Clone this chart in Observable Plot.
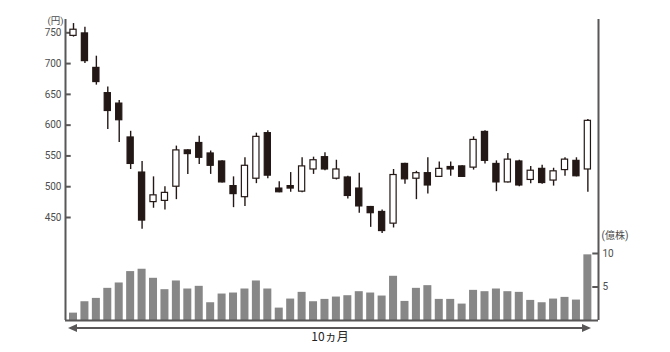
<!DOCTYPE html>
<html>
<head>
<meta charset="utf-8">
<script src="https://cdn.jsdelivr.net/npm/d3@7"></script>
<script src="https://cdn.jsdelivr.net/npm/@observablehq/plot@0.6"></script>
<style>
  html, body { margin: 0; padding: 0; background: #fff; }
  #wrap { position: relative; width: 670px; height: 352px; }
  #wrap svg { position: absolute; left: 0; top: 0; }
</style>
</head>
<body>
<div id="wrap"></div>
<script>
// ---- data ----
const openP  = [745,749,693,652,635,580,523,475,477,500,559,571,554,541,501,483,513,587,497,501,492,528,548,513,515,497,467,459,440,537,513,522,516,532,533,531,589,537,507,541,511,529,510,527,542,528];
const closeP = [755,704,670,623,608,537,445,486,490,559,553,547,534,507,488,534,581,518,491,497,533,543,528,528,485,468,457,428,519,512,522,502,529,528,516,576,542,507,544,502,526,506,525,544,517,607];
const highP  = [765,759,712,662,640,590,541,516,500,566,560,582,558,542,516,547,587,591,508,523,547,548,555,543,517,522,468,462,528,538,525,547,540,540,534,581,591,542,554,543,533,535,530,547,547,609];
const lowP   = [743,700,665,593,572,528,431,465,462,479,520,536,520,506,466,468,505,513,490,491,490,520,526,511,480,457,434,424,433,504,479,488,515,517,515,527,537,492,506,500,505,504,501,517,516,491];
const volume = [1.1,2.8,3.3,4.8,5.6,7.3,7.65,6.3,4.6,5.9,4.7,5.1,2.65,3.95,4.1,4.7,5.9,4.7,1.85,3.2,4.2,2.8,3.15,3.5,3.7,4.3,4.1,3.65,6.6,2.85,4.8,5.2,3.15,3.15,2.45,4.5,4.3,4.7,4.3,4.2,3.0,2.65,3.2,3.45,3.05,9.8];
const priceTicks = [450, 500, 550, 600, 650, 700, 750];
const volTicks = [5, 10];
const priceUnit = "(円)";
const volUnit = "(億株)";
const periodLabel = "10ヵ月";

const candles = openP.map((o, i) => ({i, open: o, close: closeP[i], high: highP[i], low: lowP[i]}));
const vols = volume.map((v, i) => ({i, v}));

const ink = "#231815";
const axisCol = "#595757";
const xDomain = [-0.7, 45.93];
const common = {
  width: 670, height: 352,
  marginLeft: 65, marginRight: 72, marginTop: 19, marginBottom: 32,
  style: {background: "transparent", fontFamily: "Roboto, 'Noto Sans CJK JP', sans-serif", fontSize: "10px", color: "#4d4d4d", overflow: "visible"}
};

function arrowMark(index, scales, values, dims) {
  const y = dims.height - dims.marginBottom + 8;
  const x0 = dims.marginLeft + 3, x1 = dims.width - dims.marginRight - 7;
  const g = d3.create("svg:g");
  g.append("line").attr("x1", x0 + 6).attr("x2", x1 - 6).attr("y1", y).attr("y2", y)
    .attr("stroke", axisCol).attr("stroke-width", 2);
  g.append("path").attr("d", `M${x0},${y}L${x0 + 9},${y - 4}L${x0 + 9},${y + 4}Z`).attr("fill", axisCol);
  g.append("path").attr("d", `M${x1},${y}L${x1 - 9},${y - 4}L${x1 - 9},${y + 4}Z`).attr("fill", axisCol);
  return g.node();
}

// volume layer + frame
const volPlot = Plot.plot({
  ...common,
  x: {domain: xDomain, axis: null},
  y: {domain: [0, 10], range: [320, 253], axis: "right", ticks: volTicks, tickSize: 0, tickPadding: 4, label: null},
  marks: [
    Plot.rectY(vols, {x1: d => d.i - 0.35, x2: d => d.i + 0.35, y: "v", fill: "#878787"}),
    Plot.ruleX(xDomain, {stroke: axisCol, strokeWidth: 2}),
    Plot.ruleY([0], {stroke: axisCol, strokeWidth: 2}),
    Plot.ruleY(volTicks, {y: d => d, x1: xDomain[1] - 0.5, x2: xDomain[1], stroke: axisCol, strokeWidth: 2}),
    Plot.text([volUnit], {text: d => d, frameAnchor: "bottom-right", dx: 3, dy: -82, textAnchor: "start", fill: "#4d4d4d", fontSize: 10}),
    arrowMark,
    Plot.text([periodLabel], {text: d => d, frameAnchor: "bottom", dx: -2, dy: 20, fill: "#222", fontSize: 12, fontFamily: "'Noto Sans CJK JP', sans-serif"})
  ]
});

// price layer
const pricePlot = Plot.plot({
  ...common,
  x: {domain: xDomain, axis: null},
  y: {domain: [450, 750], range: [217, 32.3], axis: "left", ticks: priceTicks, tickSize: 0, tickPadding: 4, label: null},
  marks: [
    Plot.ruleY(priceTicks, {y: d => d, x1: xDomain[0], x2: xDomain[0] + 0.5, stroke: axisCol, strokeWidth: 2}),
    Plot.text([priceUnit], {text: d => d, frameAnchor: "top-left", dx: -2, dy: -2, textAnchor: "end", fill: "#4d4d4d", fontSize: 9.5}),
    Plot.ruleX(candles, {x: "i", y1: "low", y2: "high", stroke: ink, strokeWidth: 1.4}),
    Plot.rect(candles, {x1: d => d.i - 0.27, x2: d => d.i + 0.27, y1: "open", y2: "close",
      fill: d => d.close > d.open ? "#ffffff" : ink, stroke: ink, strokeWidth: 1.2})
  ]
});

const wrap = document.getElementById("wrap");
wrap.appendChild(volPlot);
wrap.appendChild(pricePlot);
</script>
</body>
</html>
